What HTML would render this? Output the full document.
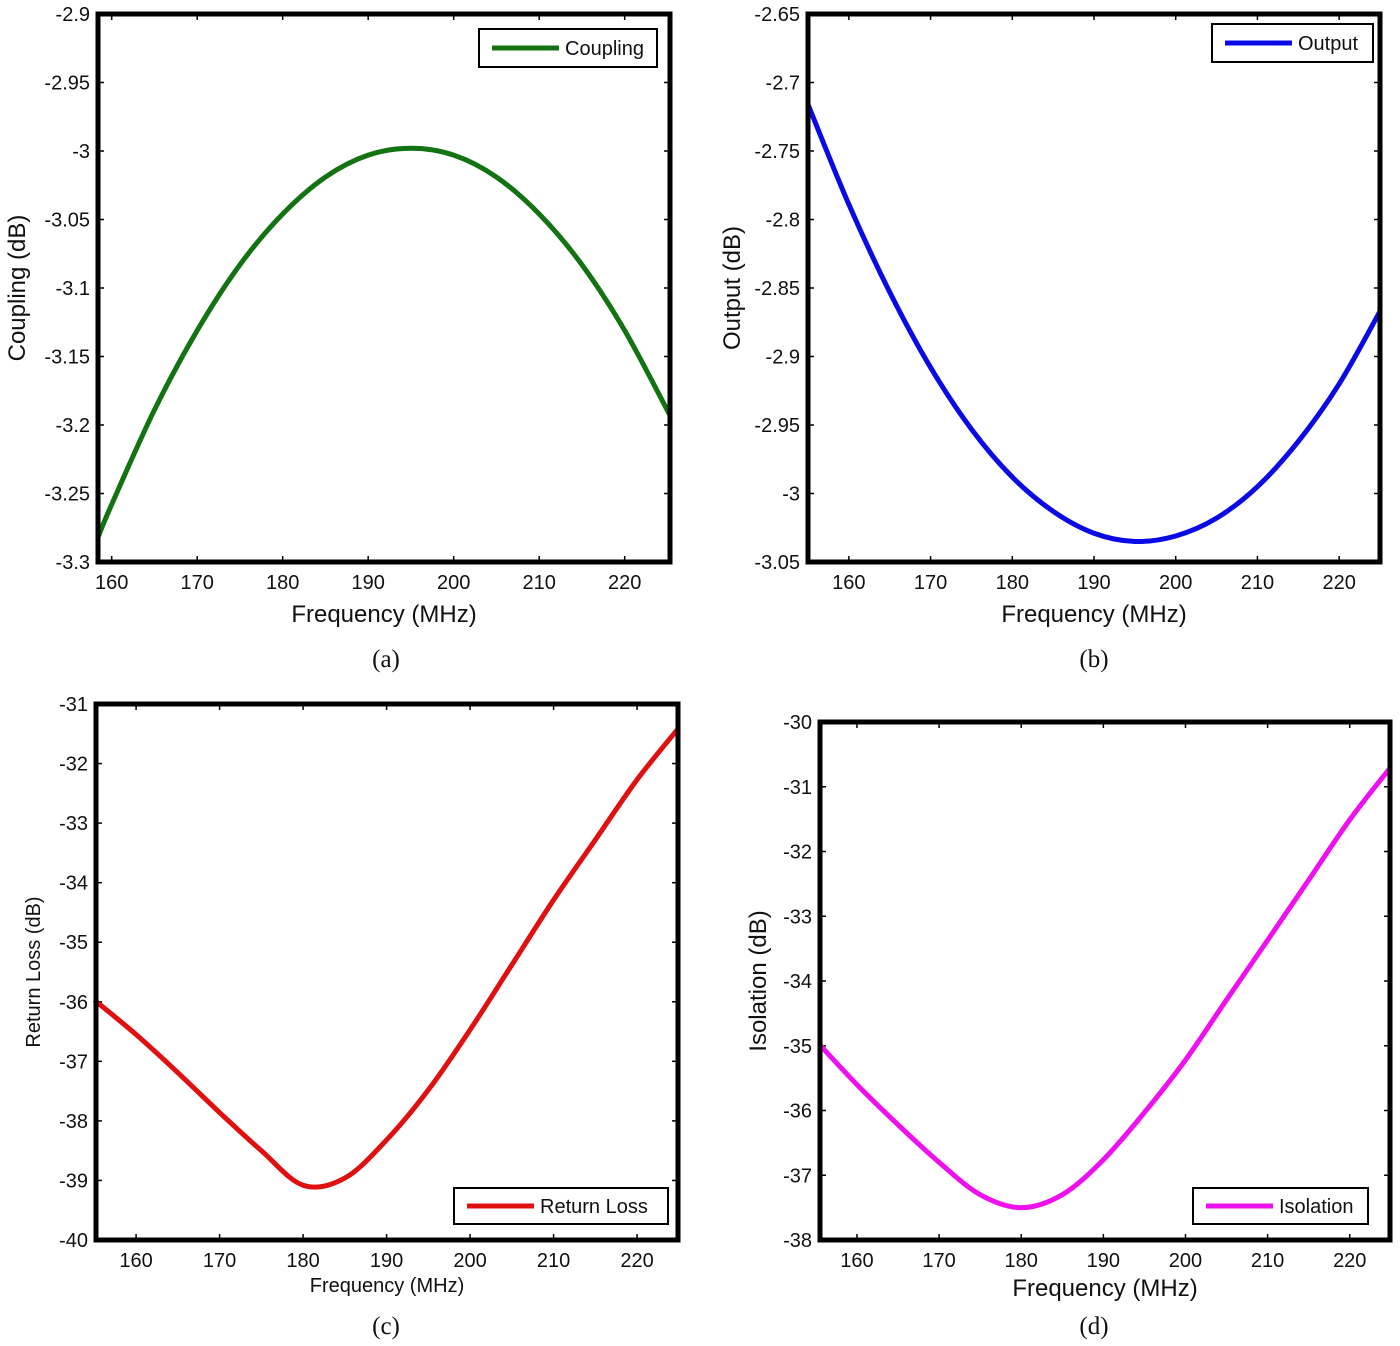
<!DOCTYPE html>
<html><head><meta charset="utf-8"><style>
body{margin:0;background:#fff;}
svg text{font-family:"Liberation Sans",sans-serif;fill:#111;}
.cap{font-family:"Liberation Serif",serif;font-size:25px;}
</style></head><body>
<svg id="fig" width="1400" height="1341" viewBox="0 0 1400 1341" xmlns="http://www.w3.org/2000/svg"></svg>
<script>
// Panel (a) Coupling
const couplingFreq = [158.4,160,165,170,175,180,185,190,195,200,205,210,215,220,225.3];
const couplingVals = [-3.282,-3.258,-3.189,-3.131,-3.083,-3.046,-3.019,-3.003,-2.998,-3.003,-3.019,-3.046,-3.083,-3.131,-3.193];
const couplingYTicks = [-2.9,-2.95,-3,-3.05,-3.1,-3.15,-3.2,-3.25,-3.3];
// Panel (b) Output
const outputFreq = [155,160,165,170,175,180,185,190,195,200,205,210,215,220,225];
const outputVals = [-2.716,-2.789,-2.853,-2.908,-2.953,-2.988,-3.013,-3.029,-3.035,-3.031,-3.018,-2.995,-2.962,-2.920,-2.867];
const outputYTicks = [-2.65,-2.7,-2.75,-2.8,-2.85,-2.9,-2.95,-3,-3.05];
// Panel (c) Return loss
const rlFreq = [155,160,165,170,175,180,185,190,195,200,205,210,215,220,225];
const rlVals = [-35.97,-36.55,-37.19,-37.86,-38.50,-39.08,-38.96,-38.32,-37.48,-36.47,-35.38,-34.29,-33.28,-32.27,-31.40];
const rlYTicks = [-31,-32,-33,-34,-35,-36,-37,-38,-39,-40];
// Panel (d) Isolation
const isoFreq = [155.5,160,165,170,175,180,185,190,195,200,205,210,215,220,224.9];
const isoVals = [-34.99,-35.6,-36.22,-36.8,-37.3,-37.5,-37.3,-36.76,-36.03,-35.22,-34.29,-33.37,-32.44,-31.51,-30.71];
const isoYTicks = [-30,-31,-32,-33,-34,-35,-36,-37,-38];
const xTicks = [160,170,180,190,200,210,220];

const NS="http://www.w3.org/2000/svg";
const svg=document.getElementById('fig');
function mk(tag,attrs,parent){const e=document.createElementNS(NS,tag);for(const k in attrs)e.setAttribute(k,attrs[k]);(parent||svg).appendChild(e);return e;}

function panel(p){
  const g=mk('g',{});
  
  
  const L=p.box[0],T=p.box[1],R=p.box[2],B=p.box[3];
  const xs=v=>L+(v-p.xr[0])/(p.xr[1]-p.xr[0])*(R-L);
  const ys=v=>T+(p.yr[1]-v)/(p.yr[1]-p.yr[0])*(B-T);
  p.yt.forEach(v=>{
    const y=ys(v);
    mk('line',{x1:L,x2:L+6,y1:y,y2:y,stroke:'#000','stroke-width':1.5},g);
    mk('line',{x1:R-6,x2:R,y1:y,y2:y,stroke:'#000','stroke-width':1.5},g);
    const t=mk('text',{x:L-8,y:y+7,'text-anchor':'end','font-size':p.fs},g);
    t.textContent=String(v);
    
    
  });
  xTicks.forEach(v=>{
    const x=xs(v);
    mk('line',{x1:x,x2:x,y1:B-6,y2:B,stroke:'#000','stroke-width':1.5},g);
    mk('line',{x1:x,x2:x,y1:T,y2:T+6,stroke:'#000','stroke-width':1.5},g);
    const t=mk('text',{x:x,y:B+27,'text-anchor':'middle','font-size':p.fs},g);
    t.textContent=String(v);
    
    
  });
  const pts=p.fx.map((f,i)=>[xs(f),ys(p.vals[i])]);
  let d='M'+pts[0][0]+','+pts[0][1];
  for(let i=0;i<pts.length-1;i++){
    const p0=pts[Math.max(0,i-1)],p1=pts[i],p2=pts[i+1],p3=pts[Math.min(pts.length-1,i+2)];
    const c1=[p1[0]+(p2[0]-p0[0])/6,p1[1]+(p2[1]-p0[1])/6];
    const c2=[p2[0]-(p3[0]-p1[0])/6,p2[1]-(p3[1]-p1[1])/6];
    d+=' C'+c1+' '+c2+' '+p2;
  }
  const path=mk('path',{d:d,fill:'none',stroke:p.color,'stroke-width':5,'stroke-linejoin':'round'},g);
  
  
  const box=mk('rect',{x:L,y:T,width:R-L,height:B-T,fill:'none',stroke:'#000','stroke-width':5},g);
  
  
  const lg=p.leg;
  const lgG=mk('g',{},g);
  
  
  mk('rect',{x:lg[0],y:lg[1],width:lg[2]-lg[0],height:lg[3]-lg[1],fill:'#fff',stroke:'#000','stroke-width':2},lgG);
  const my=(lg[1]+lg[3])/2;
  mk('line',{x1:lg[0]+13,x2:lg[0]+80,y1:my,y2:my,stroke:p.color,'stroke-width':5},lgG);
  const lt=mk('text',{x:lg[0]+86,y:my+7,'font-size':20},lgG);
  lt.textContent=p.label;
  const xt=mk('text',{x:(L+R)/2,y:B+p.xto,'text-anchor':'middle','font-size':p.tfs},g);
  xt.textContent='Frequency (MHz)';
  
  
  const yt=mk('text',{x:0,y:0,'text-anchor':'middle','font-size':p.tfs,transform:'translate('+p.ytx+','+((T+B)/2)+') rotate(-90)'},g);
  yt.textContent=p.ytitle;
  
  
  const c=mk('text',{x:p.cap[0],y:p.cap[1],'text-anchor':'middle',class:'cap'},g);
  c.textContent=p.capText;
  
  
}

panel({name:'coupling',box:[98,14,670,562],xr:[158.4,225.3],yr:[-3.3,-2.9],yt:couplingYTicks,fx:couplingFreq,vals:couplingVals,color:'#137313',leg:[479,29,657,67],label:'Coupling',ytitle:'Coupling (dB)',ytx:25,fs:20,tfs:24,xto:60,cap:[386,667],capText:'(a)'});
panel({name:'output',box:[808,14,1380,562],xr:[155,225],yr:[-3.05,-2.65],yt:outputYTicks,fx:outputFreq,vals:outputVals,color:'#0a0ae6',leg:[1212,24,1373,62],label:'Output',ytitle:'Output (dB)',ytx:740,fs:20,tfs:24,xto:60,cap:[1094,667],capText:'(b)'});
panel({name:'return-loss',box:[96,704,678,1240],xr:[155.2,224.9],yr:[-40,-31],yt:rlYTicks,fx:rlFreq,vals:rlVals,color:'#e01010',leg:[454,1188,668,1224],label:'Return Loss',ytitle:'Return Loss (dB)',ytx:40,fs:20,tfs:20,xto:52,cap:[386,1334],capText:'(c)'});
panel({name:'isolation',box:[820,722,1390,1240],xr:[155.5,224.9],yr:[-38,-30],yt:isoYTicks,fx:isoFreq,vals:isoVals,color:'#ee10ee',leg:[1193,1188,1368,1224],label:'Isolation',ytitle:'Isolation (dB)',ytx:766,fs:20,tfs:24,xto:56,cap:[1094,1334],capText:'(d)'});
</script>
</body></html>
